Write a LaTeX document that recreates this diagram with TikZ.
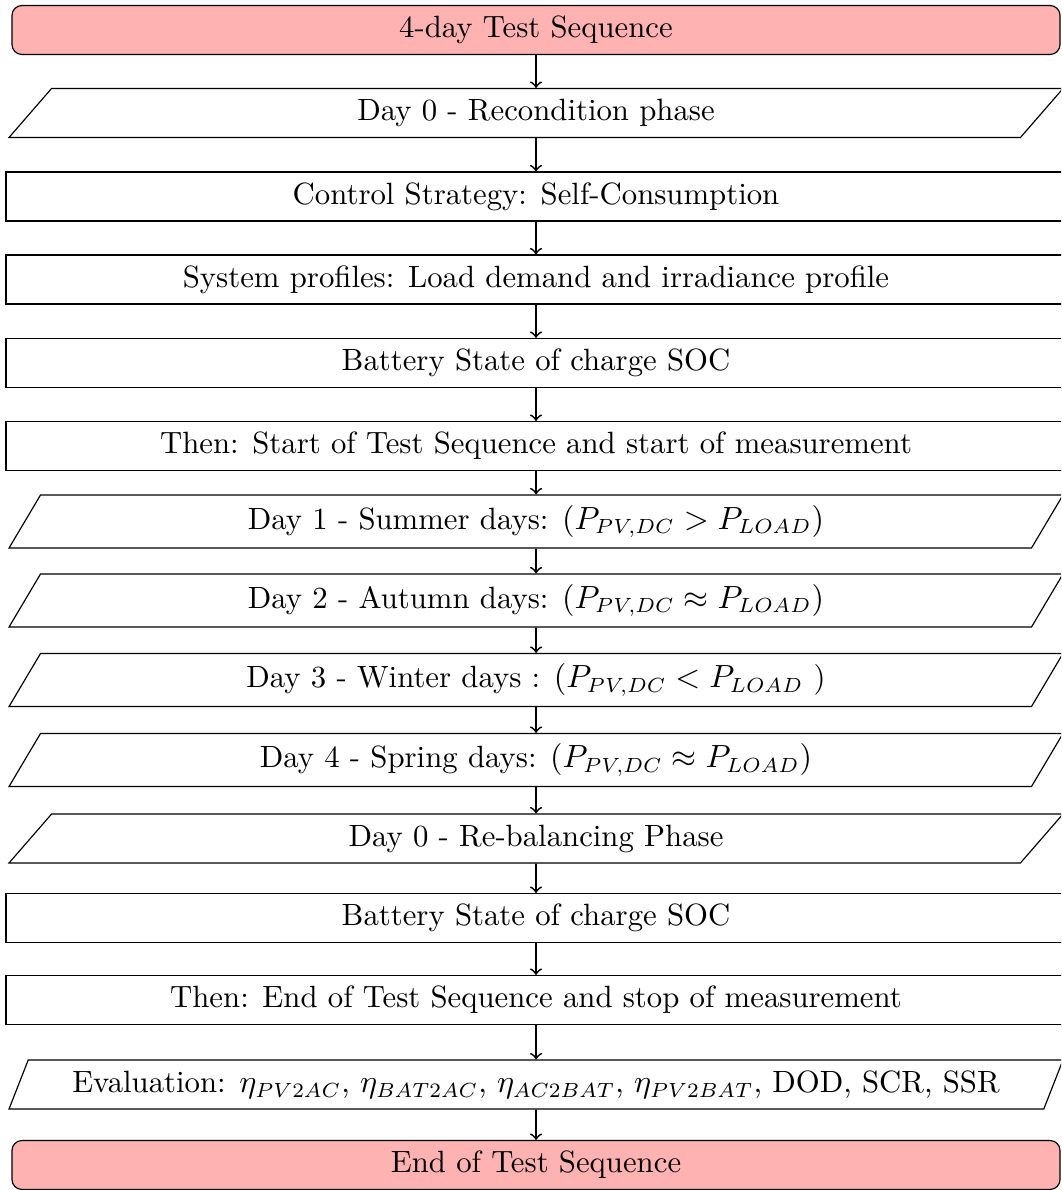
\documentclass[tikz,border=0pt]{standalone}
\usetikzlibrary{shapes.geometric}
\begin{document}
\begin{tikzpicture}[x=0.3413pt, y=-0.3413pt, font=\fontsize{10.5}{13}\selectfont,
                    term/.style={draw, rounded corners=3.4pt, fill=red!30, minimum width=357.7pt, minimum height=16.7pt},
                    proc/.style={draw, rectangle, minimum width=361.8pt, minimum height=16.7pt},
                    io/.style={draw, trapezium, trapezium stretches body, trapezium left angle=48, trapezium right angle=132, minimum width=359.7pt, minimum height=16.7pt},
                    iodays/.style={io, trapezium left angle=59, trapezium right angle=121, minimum height=18.1pt},
                    flow/.style={->, semithick}]
                    \useasboundingbox (0,0) rectangle (1061,1190);
                    \clip (0,0) rectangle (1061,1190);
                    \node[term] (start) at (536, 30) {4-day Test Sequence};
                    \node[io] (recond) at (536, 113) {Day 0 - Recondition phase};
                    \node[proc] (strategy) at (536, 196.5) {Control Strategy: Self-Consumption};
                    \node[proc] (profiles) at (536, 279.5) {System profiles: Load demand and irradiance profile};
                    \node[proc] (socstart) at (536, 363) {Battery State of charge SOC};
                    \node[proc] (measstart) at (536, 446) {Then: Start of Test Sequence and start of measurement};
                    \node[iodays] (summer) at (536, 521.5) {Day 1 - Summer days: $(P_{PV,DC} > P_{LOAD})$};
                    \node[iodays] (autumn) at (536, 600.5) {Day 2 - Autumn days: $(P_{PV,DC} \approx P_{LOAD})$};
                    \node[iodays] (winter) at (536, 680) {Day 3 - Winter days : $(P_{PV,DC} < P_{LOAD}$ )};
                    \node[iodays] (spring) at (536, 760) {Day 4 - Spring days: $(P_{PV,DC} \approx P_{LOAD})$};
                    \node[io] (rebal) at (536, 838.5) {Day 0 - Re-balancing Phase};
                    \node[proc] (socend) at (536, 918) {Battery State of charge SOC};
                    \node[proc] (measend) at (536, 1000) {Then: End of Test Sequence and stop of measurement};
                    \node[io, trapezium left angle=68, trapezium right angle=112] (evaluation) at (536, 1084.5) {Evaluation: $\eta_{PV2AC}$, $\eta_{BAT2AC}$, $\eta_{AC2BAT}$, $\eta_{PV2BAT}$, DOD, SCR, SSR};
                    \node[term] (stop) at (536, 1165) {End of Test Sequence};
                    \draw[flow] (start) -- (recond);
                    \draw[flow] (recond) -- (strategy);
                    \draw[flow] (strategy) -- (profiles);
                    \draw[flow] (profiles) -- (socstart);
                    \draw[flow] (socstart) -- (measstart);
                    \draw[flow] (measstart) -- (summer);
                    \draw[flow] (summer) -- (autumn);
                    \draw[flow] (autumn) -- (winter);
                    \draw[flow] (winter) -- (spring);
                    \draw[flow] (spring) -- (rebal);
                    \draw[flow] (rebal) -- (socend);
                    \draw[flow] (socend) -- (measend);
                    \draw[flow] (measend) -- (evaluation);
                    \draw[flow] (evaluation) -- (stop);
                \end{tikzpicture}
\end{document}
